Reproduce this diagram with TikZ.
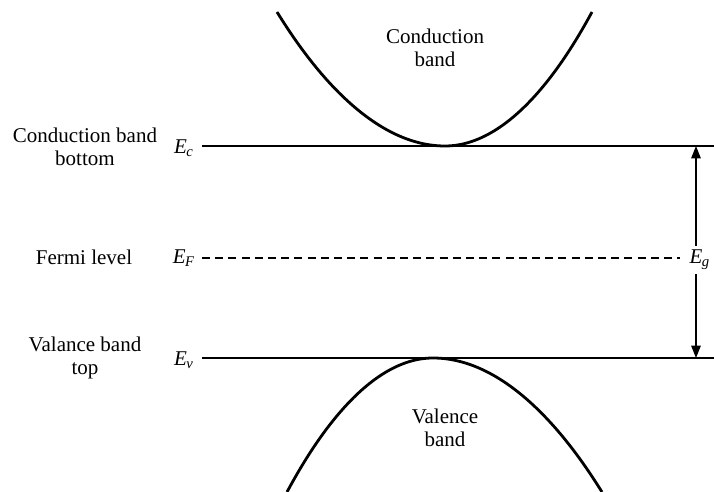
\documentclass[tikz,border=0pt]{standalone}
\usepackage{fontspec}
\setmainfont{Liberation Serif}
\usepackage{tikz}
\usetikzlibrary{arrows.meta, positioning}
\newcommand{\Esub}[1]{\textit{E}\kern-0.3pt\textsubscript{\itshape #1}}

\begin{document}
\begin{tikzpicture}[x=0.5pt, y=-0.5pt,
    lvl/.style={line width=0.55pt},
    fermi/.style={line width=0.55pt, dash pattern=on 4pt off 2.6pt},
    band/.style={line width=1.4pt},
    side/.style={font=\fontsize{10.5}{11.5}\selectfont, align=center},
    sym/.style={font=\fontsize{10.5}{11.5}\selectfont, inner sep=0pt},
    arr/.style={-{Triangle[length=6.2pt, width=4.8pt]}, line width=0.55pt}
]
\useasboundingbox (0,0) rectangle (714,492);

% energy levels
\node[sym] (ec) at (184,148) {\Esub{c}};
\node[sym] (ef) at (184,258) {\Esub{F}};
\node[sym] (ev) at (184,360) {\Esub{v}};
\coordinate (ecr) at (714,146);
\coordinate (efr) at (680,258);
\coordinate (evr) at (714,358);
\draw[lvl] (202,146) -- (ecr);
\draw[fermi] (202,258) -- (efr);
\draw[lvl] (202,358) -- (evr);

\node[side] (cbb) at (85,147) {Conduction band\\bottom};
\node[side] (fl) at (84,257) {Fermi level};
\node[side] (vbt) at (85,358) {Valance band\\top};

% bands
\draw[band] (277,12) parabola bend (445,146) (592,12);
\draw[band] (287,492) parabola bend (433,358) (602,492);
\node[side] (cb) at (435,48) {Conduction\\band};
\node[side] (vb) at (445,428) {Valence\\band};

% band gap
\node[sym] (eg) at (700,260) {\Esub{g}};
\coordinate (gtop) at (696,146);
\coordinate (gbot) at (696,358);
\draw[arr] (eg.north -| gtop) ++(0,-4) -- (gtop);
\draw[arr] (eg.south -| gbot) ++(0,4) -- (gbot);
\end{tikzpicture}
\end{document}
